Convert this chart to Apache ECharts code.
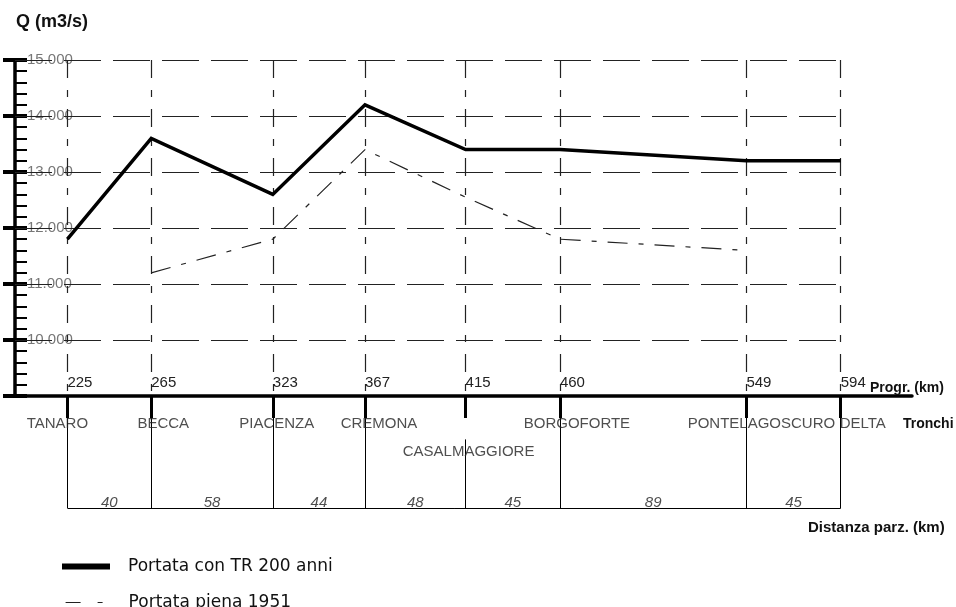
<!DOCTYPE html>
<html><head><meta charset="utf-8">
<script src="https://cdn.jsdelivr.net/npm/echarts@6/dist/echarts.min.js"></script>
<style>html,body{margin:0;padding:0;background:#fff}#c{width:956px;height:607px}</style>
</head><body><div id="c"></div>
<script>
// ---------------- data ----------------
const stationKm = [225, 265, 323, 367, 415, 460, 549, 594];
const stationNames = ['TANARO', 'BECCA', 'PIACENZA', 'CREMONA', 'CASALMAGGIORE', 'BORGOFORTE', 'PONTELAGOSCURO', 'DELTA'];
const partialDistances = [40, 58, 44, 48, 45, 89, 45];
const yTicks = [10000, 11000, 12000, 13000, 14000, 15000];
const tr200Km = [225, 265, 323, 367, 415, 460, 549, 594];
const tr200Q = [11800, 13600, 12600, 14200, 13400, 13400, 13200, 13200];
const flood1951Km = [265, 323, 367, 415, 460, 549];
const flood1951Q = [11200, 11800, 13400, 12550, 11800, 11600];
const seriesNames = ['Portata con TR 200 anni', 'Portata piena 1951'];

// ---------------- layout / style ----------------
const FONT = "'Liberation Sans', Arial, sans-serif";
const X_MIN = 200, X_MAX = 628, Y_MIN = 9000, Y_MAX = 15000;
const nameRow = { CASALMAGGIORE: 2 };
const nameShift = { TANARO: -10, BECCA: 12, PIACENZA: 4, CREMONA: 14, CASALMAGGIORE: 3, BORGOFORTE: 17, PONTELAGOSCURO: 15, DELTA: 22 };

const zip = (a, b) => a.map((v, i) => [v, b[i]]);
const lastKm = stationKm[stationKm.length - 1];
const firstKm = stationKm[0];

const hGrid = { type: [37, 12], color: '#222', width: 1.2 };
const vGrid = { type: [18, 12, 7, 12], color: '#222', width: 1.2 };
const gridLines = [];
yTicks.forEach(v => gridLines.push([{ coord: [X_MIN, v], lineStyle: hGrid }, { coord: [lastKm, v], lineStyle: hGrid }]));
stationKm.forEach(k => gridLines.push([{ coord: [k, Y_MAX], lineStyle: vGrid }, { coord: [k, Y_MIN], lineStyle: vGrid }]));

const solid = { type: 'solid', color: '#000', width: 1 };
const tableLines = [];
stationKm.forEach((k, i) => {
  const top = nameRow[stationNames[i]] ? 2.45 : 4;
  tableLines.push([{ coord: [k, 0], lineStyle: solid }, { coord: [k, top], lineStyle: solid }]);
});
tableLines.push([{ coord: [firstKm, 0], lineStyle: solid }, { coord: [lastKm, 0], lineStyle: solid }]);

const nameData = stationNames.map((n, i) => ({
  value: [stationKm[i], nameRow[n] || 3],
  name: n,
  label: { offset: [nameShift[n] || 0, 0] }
}));
const distData = partialDistances.map((d, i) => ({
  value: [(stationKm[i] + stationKm[i + 1]) / 2, 0],
  name: String(d)
}));

const legendText = { fontFamily: "'DejaVu Sans', sans-serif", fontSize: 17, color: '#111', padding: [0, 0, 0, 13] };

const chart = echarts.init(document.getElementById('c'), null, { renderer: 'canvas' });
chart.setOption({
  animation: false,
  backgroundColor: '#fff',
  title: [
    { text: 'Q (m3/s)', left: 11, top: 8, textStyle: { fontFamily: FONT, fontSize: 18, fontWeight: 'bold', color: '#111' } },
    { text: 'Progr. (km)', left: 865, top: 376, textStyle: { fontFamily: FONT, fontSize: 14, fontWeight: 'bold', color: '#111' } },
    { text: 'Tronchi', left: 898, top: 412, textStyle: { fontFamily: FONT, fontSize: 14, fontWeight: 'bold', color: '#111' } },
    { text: 'Distanza parz. (km)', left: 803, top: 515, textStyle: { fontFamily: FONT, fontSize: 15, fontWeight: 'bold', color: '#111' } }
  ],
  legend: [
    {
      left: 57, top: 553, itemWidth: 48, itemHeight: 6,
      textStyle: legendText,
      data: [{ name: seriesNames[0], icon: 'rect' }]
    },
    {
      left: 57, top: 589, itemWidth: 48, itemHeight: 6,
      textStyle: legendText,
      data: [{ name: seriesNames[1], itemStyle: { opacity: 0 },
        lineStyle: { type: [15, 17, 5, 20], dashOffset: 54, width: 1.2, color: '#222' } }]
    }
  ],
  grid: [
    { left: 15, right: 44, top: 60, bottom: 211, containLabel: false },
    { left: 15, right: 44, top: 396, height: 112, containLabel: false }
  ],
  xAxis: [
    {
      type: 'value', gridIndex: 0, min: X_MIN, max: X_MAX, position: 'bottom',
      axisLine: { show: true, lineStyle: { color: '#000', width: 3.5 } },
      axisTick: { show: true, inside: false, length: 22, customValues: stationKm, lineStyle: { color: '#000', width: 3 } },
      axisLabel: { show: true, inside: true, margin: 6, align: 'left', customValues: stationKm,
        fontFamily: FONT, fontSize: 15, color: '#222' },
      splitLine: { show: false }
    },
    { type: 'value', gridIndex: 1, min: X_MIN, max: X_MAX, show: false }
  ],
  yAxis: [
    {
      type: 'value', gridIndex: 0, min: Y_MIN, max: Y_MAX, interval: 1000, position: 'left',
      axisLine: { show: true, lineStyle: { color: '#000', width: 3.5 } },
      axisTick: { show: true, inside: true, length: 12, lineStyle: { color: '#000', width: 4 } },
      minorTick: { show: true, splitNumber: 5, length: 12, lineStyle: { color: '#000', width: 2 } },
      axisLabel: {
        show: true, inside: true, margin: 12, align: 'left', verticalAlign: 'middle',
        padding: [0, 0, 12, 0], lineHeight: 15,
        fontFamily: FONT, fontSize: 15, color: '#777',
        formatter: v => (v === Y_MIN ? '' : (v / 1000).toFixed(3))
      },
      splitLine: { show: false }
    },
    {
      type: 'value', gridIndex: 0, min: Y_MIN, max: Y_MAX, interval: 1000, position: 'left',
      axisLine: { show: false },
      axisTick: { show: true, inside: false, length: 12, lineStyle: { color: '#000', width: 4 } },
      axisLabel: { show: false }, splitLine: { show: false }
    },
    { type: 'value', gridIndex: 1, min: 0, max: 4, show: false }
  ],
  series: [
    {
      type: 'scatter', xAxisIndex: 0, yAxisIndex: 0, data: [], silent: true, z: 1,
      markLine: { silent: true, symbol: ['none', 'none'], label: { show: false }, animation: false, data: gridLines }
    },
    {
      name: seriesNames[0], type: 'line', xAxisIndex: 0, yAxisIndex: 0,
      data: zip(tr200Km, tr200Q), symbol: 'none', showSymbol: false, z: 5,
      itemStyle: { color: '#000' },
      lineStyle: { color: '#000', width: 3.5, join: 'miter' }
    },
    {
      name: seriesNames[1], type: 'line', xAxisIndex: 0, yAxisIndex: 0,
      data: zip(flood1951Km, flood1951Q), symbol: 'none', showSymbol: false, z: 4,
      itemStyle: { color: '#222' },
      lineStyle: { color: '#222', width: 1.2, type: [20, 11, 5, 11] }
    },
    {
      type: 'scatter', xAxisIndex: 1, yAxisIndex: 2, data: nameData, symbolSize: 0, silent: true, z: 6,
      label: { show: true, position: 'inside', formatter: p => p.name, fontFamily: FONT, fontSize: 15, color: '#222' },
      markLine: { silent: true, symbol: ['none', 'none'], label: { show: false }, animation: false, data: tableLines }
    },
    {
      type: 'scatter', xAxisIndex: 1, yAxisIndex: 2, data: distData, symbolSize: 0, silent: true, z: 6,
      label: { show: true, position: 'inside', offset: [0, -5], formatter: p => p.name,
        fontFamily: FONT, fontSize: 15, fontStyle: 'italic', color: '#222' }
    }
  ]
});
</script>
</body></html>
